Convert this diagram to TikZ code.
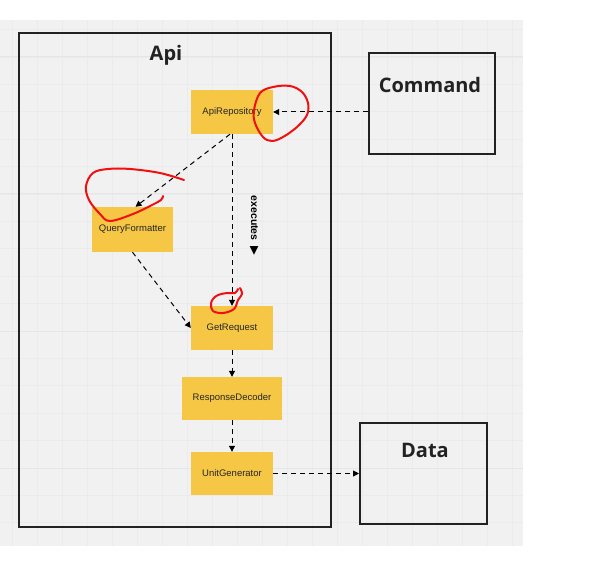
\documentclass[tikz,border=0pt]{standalone}
\usepackage{fontspec}
\setmainfont{Liberation Sans}
\newfontfamily\titlefont{Open Sans}
\newfontfamily\symfont{DejaVu Sans}
\usetikzlibrary{arrows.meta}

\definecolor{boardbg}{HTML}{F1F1F1}
\definecolor{gridminor}{HTML}{EBEBEB}
\definecolor{gridmajor}{HTML}{E6E6E6}
\definecolor{framecol}{HTML}{222222}
\definecolor{cardfill}{HTML}{F5C744}
\definecolor{markup}{HTML}{F01010}

\tikzset{
  card/.style={fill=cardfill, draw=none, minimum height=44pt, inner sep=0pt,
    font=\fontsize{9.5}{11}\selectfont, text=black!85},
  frame/.style={draw=framecol, line width=2pt, fill=none, inner sep=0pt},
  title/.style={font=\titlefont\bfseries\fontsize{20}{24}\selectfont, text=framecol},
  flow/.style={draw=black, line width=1pt, dash pattern=on 5pt off 4pt,
    -{Triangle[length=6pt,width=6pt]}},
  flowlabel/.style={font=\bfseries\fontsize{10.5}{12}\selectfont, rotate=-90, inner sep=0pt},
  scribble/.style={draw=markup, line width=2pt, line cap=round, line join=round},
}

\begin{document}
\begin{tikzpicture}[x=1pt,y=-1pt]
\useasboundingbox (0,0) rectangle (597,561);

% board with its grid
\fill[boardbg] (0,20) rectangle (523,546);
\begin{scope}
  \clip (0,20) rectangle (523,546);
  \foreach \i in {0,...,20} {
    \pgfmathsetmacro{\gx}{12+25*\i}
    \draw[gridminor, line width=0.8pt] (\gx,20) -- (\gx,546);
  }
  \foreach \j in {-1,...,17} {
    \pgfmathsetmacro{\gy}{57+27.4*\j}
    \draw[gridminor, line width=0.8pt] (0,\gy) -- (523,\gy);
  }
  \foreach \gy in {57,194,331,468} {
    \draw[gridmajor, line width=1pt] (0,\gy) -- (523,\gy);
  }
\end{scope}

% containers
\node[frame, minimum width=312pt, minimum height=494pt] (api) at (175,280) {};
\node[title] (apititle) at (166,55) {Api};
\node[frame, minimum width=126pt, minimum height=101pt] (cmd) at (432,103.5) {};
\node[title] (cmdtitle) at (430,85) {Command};
\node[frame, minimum width=127pt, minimum height=101pt] (data) at (423.5,473.5) {};
\node[title] (datatitle) at (425,450) {Data};

% components
\node[card, minimum width=82pt] (repo) at (232,112) {ApiRepository};
\node[card, minimum width=81pt, minimum height=45pt] (fmt) at (132.5,229.5) {QueryFormatter};
\node[card, minimum width=82pt] (get) at (232,328) {GetRequest};
\node[card, minimum width=100pt, minimum height=43pt] (dec) at (232,398.5) {ResponseDecoder};
\node[card, minimum width=82pt, minimum height=43pt] (gen) at (232,473.5) {UnitGenerator};

% connectors
\draw[flow] (cmd.west |- repo.east) -- (repo.east);
\draw[flow] ([xshift=-2pt]repo.south) -- ([xshift=3pt]fmt.north);
\draw[flow] (repo.south) -- (get.north);
\node[flowlabel] (execlabel) at (254,225.5)
  {executes\ \ {\symfont\fontsize{11.5}{12}\selectfont ▶}};
\draw[flow] (fmt.south) -- (get.west);
\draw[flow] (get.south) -- (dec.north);
\draw[flow] (dec.south) -- (gen.north);
\draw[flow] (gen.east) -- (data.west |- gen.east);

% hand-drawn marks
\draw[scribble] plot[smooth cycle, tension=0.6] coordinates {
  (260,93) (273,87) (290,86) (302,92) (308,103) (307,115) (297,127)
  (283,137) (272,141) (263,137) (255,123) (254,110)};
\draw[scribble] plot[smooth, tension=0.6] coordinates {
  (184,180) (160,173) (130,169) (108,169) (93,173) (86,186) (89,200)
  (100,214) (110,221) (133,214) (152,205) (161,200) (163,196)};
\draw[scribble] plot[smooth, tension=0.6] coordinates {
  (240,288) (242,294) (238,300) (234,309) (223,313) (213,311) (211,304)
  (213,299) (218,295) (227,293) (235,293) (238,289)};

\end{tikzpicture}
\end{document}
